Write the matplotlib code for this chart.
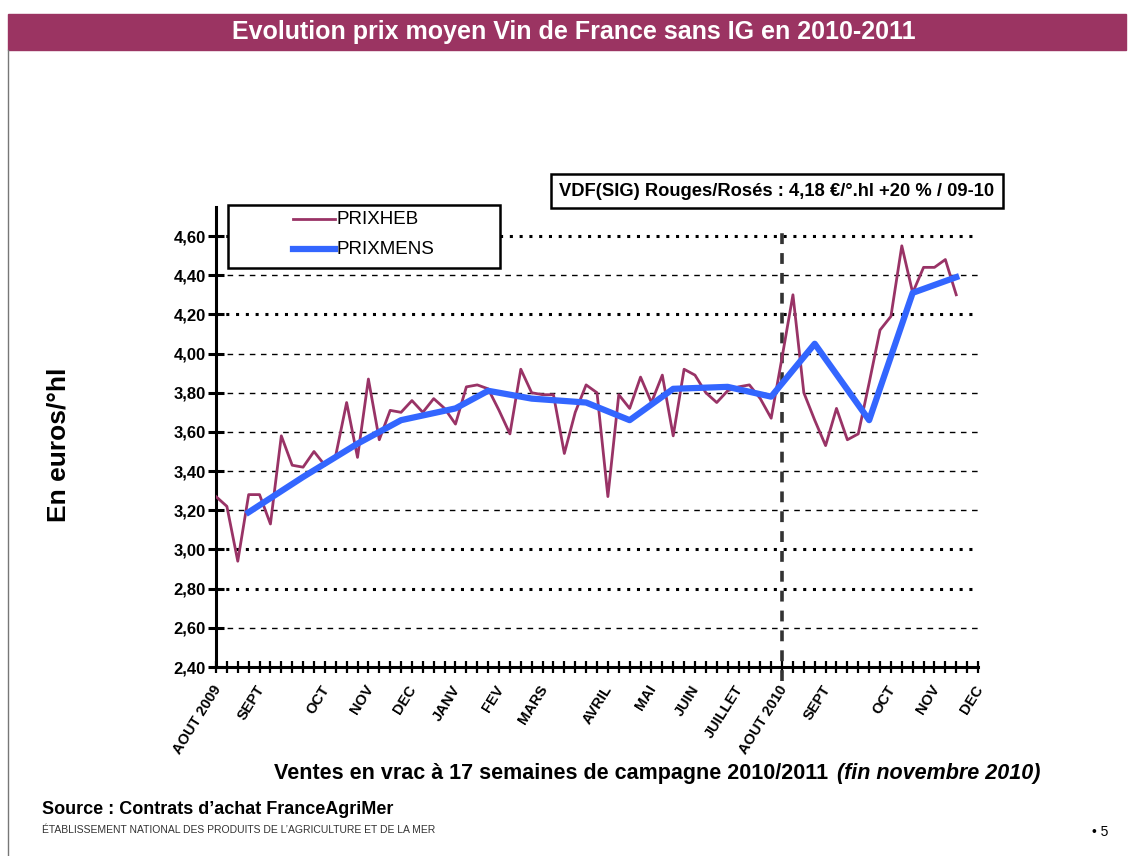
import numpy as np
import matplotlib
matplotlib.use("Agg")
import matplotlib.pyplot as plt
from matplotlib.patches import Rectangle
from matplotlib.lines import Line2D

plt.rcParams['font.family'] = ['Liberation Sans', 'DejaVu Sans']

# weekly price (PRIXHEB), weeks 0..68 from aout 2009
prixheb = [3.27, 3.22, 2.94, 3.28, 3.28, 3.13, 3.58, 3.43, 3.42, 3.50,
           3.43, 3.48, 3.75, 3.47, 3.87, 3.56, 3.71, 3.70, 3.76, 3.70,
           3.77, 3.72, 3.64, 3.83, 3.84, 3.82, 3.71, 3.59, 3.92, 3.80,
           3.79, 3.79, 3.49, 3.70, 3.84, 3.80, 3.27, 3.79, 3.72, 3.88,
           3.75, 3.89, 3.58, 3.92, 3.89, 3.80, 3.75, 3.81, 3.83, 3.84,
           3.77, 3.67, 3.98, 4.30, 3.80, 3.66, 3.53, 3.72, 3.56, 3.59,
           3.85, 4.12, 4.19, 4.55, 4.31, 4.44, 4.44, 4.48, 4.30]

# monthly average (PRIXMENS)
mens_weeks = [3, 8, 13, 17, 22, 25, 29, 34, 38, 42, 47, 51, 55, 60, 64, 68]
prixmens = [3.19, 3.37, 3.54, 3.66, 3.72, 3.81, 3.77, 3.75, 3.66, 3.82,
            3.83, 3.78, 4.05, 3.66, 4.31, 4.39]

month_weeks = [0, 4, 10, 14, 18, 22, 26, 30, 36, 40, 44, 48, 52, 56, 62, 66, 70]
month_labels = ['AOUT 2009', 'SEPT', 'OCT', 'NOV', 'DEC', 'JANV', 'FEV', 'MARS',
                'AVRIL', 'MAI', 'JUIN', 'JUILLET', 'AOUT 2010', 'SEPT', 'OCT',
                'NOV', 'DEC']

yticks = [2.40, 2.60, 2.80, 3.00, 3.20, 3.40, 3.60, 3.80, 4.00, 4.20, 4.40, 4.60]
thick_grid = [2.80, 3.00, 4.20, 4.60]

heb_color = '#993366'
mens_color = '#3366ff'

W, H = 1133, 856
fig = plt.figure(figsize=(W / 100, H / 100), dpi=100)

# title bar
fig.patches.append(Rectangle((8 / W, 1 - 50 / H), 1118 / W, 36 / H,
                             transform=fig.transFigure, color='#9b3462'))
fig.text(574 / W, 1 - 32 / H, 'Evolution prix moyen Vin de France sans IG en 2010-2011',
         color='white', fontsize=18, fontweight='bold', ha='center', va='center')
fig.add_artist(Line2D([8 / W, 8 / W], [0, 1 - 50 / H], color='#777777', lw=1,
                      transform=fig.transFigure))

ax = fig.add_axes([216 / W, 1 - 667 / H, 762 / W, 460 / H])
ax.set_xlim(0, 70)
ax.set_ylim(2.40, 2.40 + 460 / 195.9)

for y in yticks[1:]:
    if y in thick_grid:
        ax.plot([0, 70], [y, y], color='black', lw=2.2, ls=(0, (1, 2.2)), zorder=1)
    else:
        ax.plot([0, 70], [y, y], color='black', lw=1, ls=(0, (4, 4)), zorder=1)

ax.plot([52, 52], [2.33, 4.63], color='#333333', lw=2.6, ls=(0, (3, 2.5)),
        clip_on=False, zorder=2)

ax.plot(np.arange(len(prixheb)), prixheb, color=heb_color, lw=2, zorder=3)
ax.plot(mens_weeks, prixmens, color=mens_color, lw=4.5, zorder=4,
        solid_joinstyle='round')

for s in ['top', 'right']:
    ax.spines[s].set_visible(False)
for s in ['left', 'bottom']:
    ax.spines[s].set_linewidth(2.2)

ax.set_yticks(yticks)
ax.set_yticklabels([('%.2f' % v).replace('.', ',') for v in yticks],
                   fontsize=12, fontweight='bold')
ax.tick_params(axis='y', direction='inout', length=11, width=2.2, pad=2)
ax.set_xticks(np.arange(0, 71))
ax.set_xticklabels([])
ax.tick_params(axis='x', direction='inout', length=8, width=1.6)

for wk, lab in zip(month_weeks, month_labels):
    ax.text(wk - 0.4, 2.32, lab, rotation=58, rotation_mode='anchor', ha='right',
            va='top', fontsize=10.5, fontweight='bold')

# legend box
fig.add_artist(Rectangle((228 / W, 1 - 268 / H), 272 / W, 63 / H,
                         transform=fig.transFigure, fc='white', ec='black', lw=1.8))
for yy, col, lw, lab in [(219, heb_color, 2, 'PRIXHEB'), (249, mens_color, 4.5, 'PRIXMENS')]:
    fig.add_artist(Line2D([293 / W, 335 / W], [1 - yy / H, 1 - yy / H], color=col, lw=lw,
                          transform=fig.transFigure, zorder=3))
    fig.text(337 / W, 1 - yy / H, lab, fontsize=13.5, ha='left', va='center', zorder=4)

fig.text(777 / W, 1 - 191 / H, 'VDF(SIG) Rouges/Rosés : 4,18 €/°.hl +20 % / 09-10',
         fontsize=13.2, fontweight='bold', ha='center', va='center',
         bbox=dict(boxstyle='square,pad=0.45', fc='white', ec='black', lw=1.8))

fig.text(58 / W, 1 - 445 / H, 'En euros/°hl', rotation=90, fontsize=19,
         fontweight='bold', ha='center', va='center')

fig.text(834 / W, 1 - 773 / H, 'Ventes en vrac à 17 semaines de campagne 2010/2011 ',
         fontsize=15.5, fontweight='bold', ha='right', va='center')
fig.text(837 / W, 1 - 773 / H, '(fin novembre 2010)', fontsize=15.5,
         fontweight='bold', style='italic', ha='left', va='center')

fig.text(42 / W, 1 - 809 / H, 'Source : Contrats d\u2019achat FranceAgriMer',
         fontsize=13, fontweight='bold', ha='left', va='center')
fig.text(42 / W, 1 - 830 / H,
         'ÉTABLISSEMENT NATIONAL DES PRODUITS DE L\u2019AGRICULTURE ET DE LA MER',
         fontsize=7.5, ha='left', va='center', color='#333333')
fig.text(1092 / W, 1 - 832 / H, '\u2022 5', fontsize=10, ha='left', va='center')

fig.savefig('out.png', dpi=100)
